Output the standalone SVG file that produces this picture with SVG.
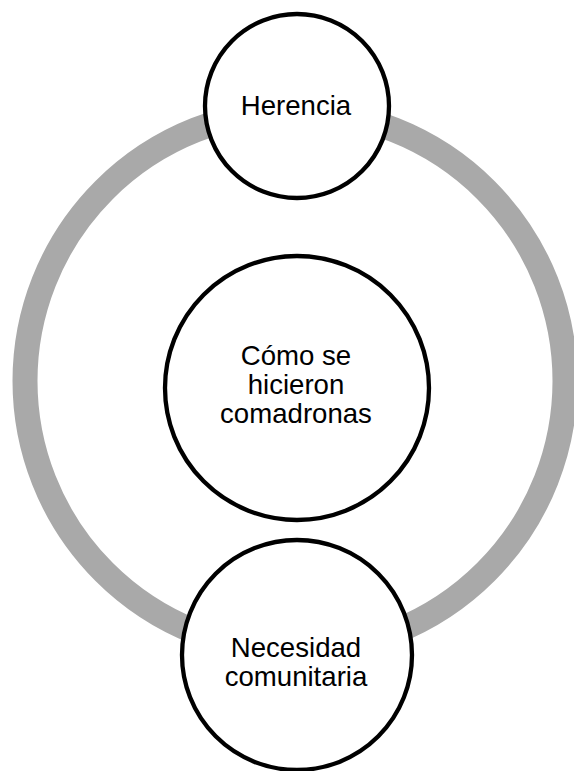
<svg xmlns="http://www.w3.org/2000/svg" width="574" height="771" viewBox="0 0 574 771">
<style>
.node{fill:#fff;stroke:#000;stroke-width:4.3}
.lbl{font-family:"Liberation Sans",Arial,sans-serif;font-size:27.6px;fill:#000;text-anchor:middle}
.ring{fill:none;stroke:#a9a9a9;stroke-width:25}
</style>
<rect width="574" height="771" fill="#fff"/>
<g id="connectors">
<circle class="ring" cx="295" cy="381" r="270"/>
</g>
<g id="center">
<circle class="node" cx="297" cy="388" r="132"/>
<text class="lbl" x="296" y="365">Cómo se</text>
<text class="lbl" x="296" y="394">hicieron</text>
<text class="lbl" x="296" y="423">comadronas</text>
</g>
<g id="herencia">
<circle class="node" cx="297" cy="106" r="92"/>
<text class="lbl" x="296" y="115">Herencia</text>
</g>
<g id="necesidad">
<circle class="node" cx="297" cy="655" r="115"/>
<text class="lbl" x="296" y="657">Necesidad</text>
<text class="lbl" x="296" y="686">comunitaria</text>
</g>
</svg>
